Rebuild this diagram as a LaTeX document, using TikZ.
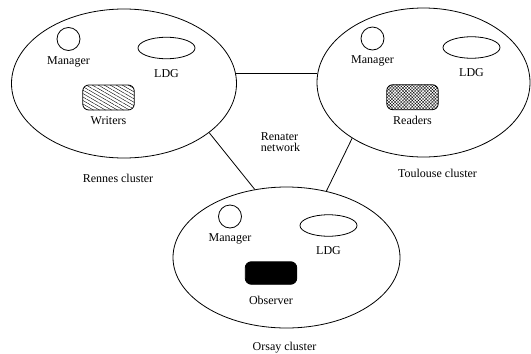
\documentclass[tikz,border=0pt]{standalone}
\usepackage{fontspec}
\setmainfont{Liberation Serif}
\usetikzlibrary{positioning, shapes.geometric, patterns.meta}
\tikzstyle{site}=[draw, ellipse, line width=0.8pt, inner sep=0pt]
\tikzstyle{manager}=[draw, circle, line width=0.8pt, inner sep=0pt, minimum size=23pt]
\tikzstyle{ldg}=[draw, ellipse, line width=0.8pt, inner sep=0pt, minimum width=57pt, minimum height=21.5pt]
\tikzstyle{proc}=[draw, rounded corners=6pt, line width=0.8pt, inner sep=0pt, minimum width=51.5pt, minimum height=25pt]
\tikzstyle{lbl}=[font=\fontsize{12}{13}\selectfont]
\tikzstyle{link}=[line width=0.8pt]

\begin{document}
\begin{tikzpicture}[x=1pt, y=-1pt]
  \useasboundingbox (0,0) rectangle (531,354);
  % clusters
  \node[site, minimum width=225pt, minimum height=149pt] (rennes) at (124,83.5) {};
  \node[site, minimum width=213pt, minimum height=149pt] (toulouse) at (423.5,82.5) {};
  \node[site, minimum width=227pt, minimum height=141pt] (orsay) at (286.5,257.5) {};
  \node[lbl] (rennesname) [below=12pt of rennes, xshift=-6pt] {Rennes cluster};
  \node[lbl] (toulousename) [below=8.5pt of toulouse, xshift=14pt] {Toulouse cluster};
  \node[lbl] (orsayname) [below=10.5pt of orsay, xshift=-2pt] {Orsay cluster};
  % Rennes
  \node[manager] (rm) at (68.5,39) {};
  \node[lbl] (rmname) [below=2pt of rm] {Manager};
  \node[ldg] (rl) at (166.5,48) {};
  \node[lbl] (rlname) [below=6.5pt of rl] {LDG};
  \node[proc, pattern={Lines[angle=-30,distance=3pt,line width=0.4pt]}] (writers) at (108.5,97.5) {};
  \node[lbl] (writersname) [below=2.5pt of writers] {Writers};
  % Toulouse
  \node[manager] (tm) at (372.5,38.5) {};
  \node[lbl] (tmname) [below=2pt of tm] {Manager};
  \node[ldg] (tl) at (471.5,47.5) {};
  \node[lbl] (tlname) [below=6.5pt of tl] {LDG};
  \node[proc, pattern={Hatch[angle=45,distance=2.2pt,line width=0.3pt]}] (readers) at (412.5,97.2) {};
  \node[lbl] (readersname) [below=2.5pt of readers] {Readers};
  % Orsay
  \node[manager] (om) at (230,216.5) {};
  \node[lbl] (omname) [below=2pt of om] {Manager};
  \node[ldg] (ol) at (328.5,225.5) {};
  \node[lbl] (olname) [below=6.5pt of ol] {LDG};
  \node[proc, fill=black, minimum height=22.5pt] (observer) at (271,273) {};
  \node[lbl] (observername) [below=7.5pt of observer] {Observer};
  % network
  \node[lbl, align=left, inner sep=0pt] (renater) at (280.5,142) {Renater\\[-2pt]network};
  \draw[link] (rennes.5) -- (rennes.5 -| toulouse.west);
  \draw[link] (rennes.-30.3) -- (orsay.115);
  \draw[link] (toulouse.218.3) -- (orsay.59.8);
\end{tikzpicture}
\end{document}
